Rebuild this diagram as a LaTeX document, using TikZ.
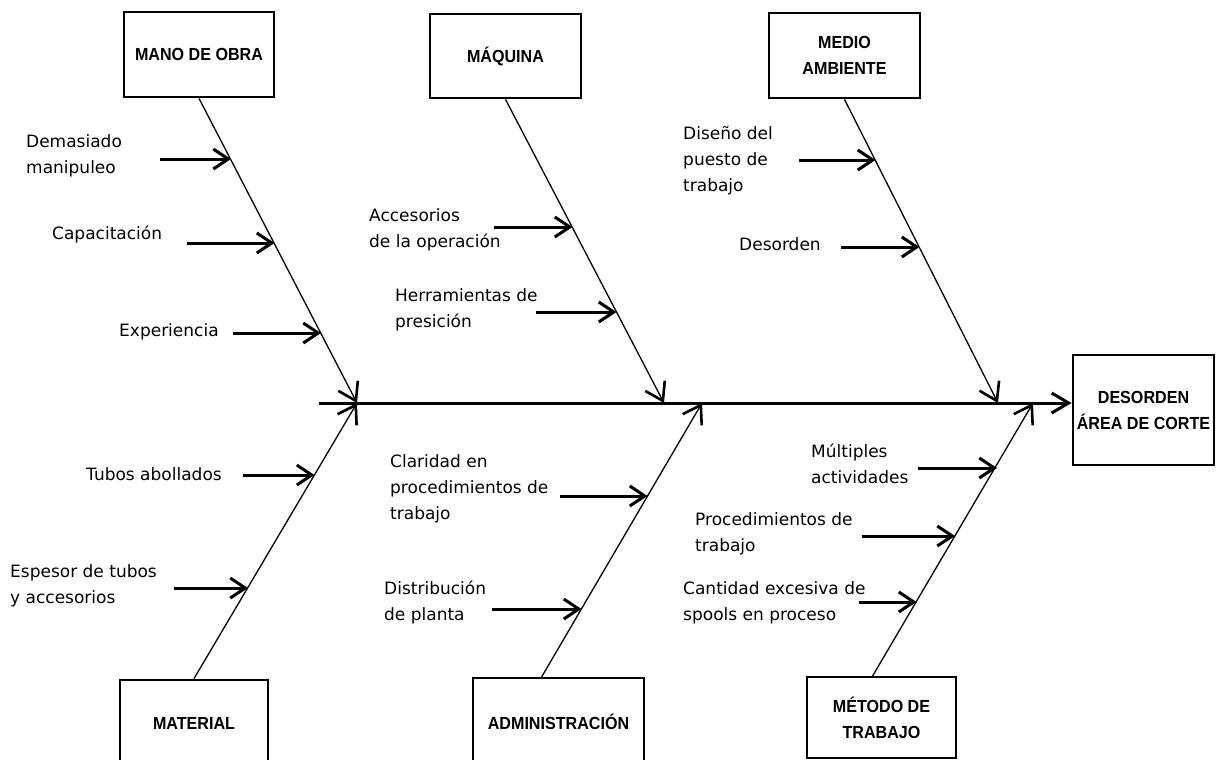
\documentclass[tikz,border=0pt]{standalone}
\usepackage{fontspec}
\newfontfamily\causefont{DejaVu Sans}
\newfontfamily\headfont{Liberation Sans}[FakeStretch=0.92]
\usetikzlibrary{arrows.meta}

\begin{document}
\begin{tikzpicture}[x=1pt,y=-1pt,
  box/.style={draw, line width=2.8pt, inner sep=0pt, align=center,
    font=\headfont\bfseries\fontsize{17.5}{26}\selectfont},
  cause/.style={anchor=west, inner sep=0pt, align=left,
    font=\causefont\fontsize{17}{26}\selectfont},
  bone/.style={line width=1.3pt, -{Straight Barb[length=17pt,width=22pt,line width=2.6pt]}},
  twig/.style={line width=3pt, -{Straight Barb[length=15pt,width=20pt,line width=3pt]}},
  spine/.style={line width=3pt, -{Straight Barb[length=17pt,width=20pt,line width=3pt]}}]
\useasboundingbox (0,0) rectangle (1219,760);
\clip (0,0) rectangle (1219,760);

% category boxes and effect box
\node[box, minimum width=150pt, minimum height=85pt] (mano) at (199,54.5) {MANO DE OBRA};
\node[box, minimum width=151pt, minimum height=84pt] (maquina) at (505.5,56) {MÁQUINA};
\node[box, minimum width=151pt, minimum height=85pt] (medio) at (844.5,55.5) {MEDIO\\AMBIENTE};
\node[box, minimum width=141pt, minimum height=110pt] (efecto) at (1143.5,410) {DESORDEN\\ÁREA DE CORTE};
\node[box, minimum width=148pt, minimum height=86pt] (material) at (194,723) {MATERIAL};
\node[box, minimum width=171pt, minimum height=88pt] (admin) at (558.5,722) {ADMINISTRACIÓN};
\node[box, minimum width=149pt, minimum height=81pt] (metodo) at (881.5,717.5) {MÉTODO DE\\TRABAJO};

% spine
\coordinate (sp0) at (319,403);
\draw[spine] (sp0) -- (sp0 -| efecto.west);

% junctions on the spine
\coordinate (jMano) at (357,403);
\coordinate (jMaq) at (664,403);
\coordinate (jMedio) at (998,403);
\coordinate (jMat) at (357,403);
\coordinate (jAdm) at (702,403);
\coordinate (jMet) at (1033,403);
\coordinate (admA) at (541,678);
\coordinate (metA) at (872,677);

% main bones
\draw[bone] (mano.south) -- (jMano);
\draw[bone] (maquina.south) -- (jMaq);
\draw[bone] (medio.south) -- (jMedio);
\draw[bone] (material.north) -- (jMat);
\draw[bone] (admA) -- (jAdm);
\draw[bone] (metA) -- (jMet);

% causes: mano de obra
\node[cause] (c11) at (26,155.5) {Demasiado\\manipuleo};
\node[cause] (c12) at (52,234) {Capacitación};
\node[cause] (c13) at (119,332) {Experiencia};
\coordinate (a11) at (160,159); \coordinate (b11) at (231,159);
\coordinate (a12) at (187,243); \coordinate (b12) at (274.5,243);
\coordinate (a13) at (233,333); \coordinate (b13) at (321,333);
\draw[twig] (a11) -- (b11);
\draw[twig] (a12) -- (b12);
\draw[twig] (a13) -- (b13);

% causes: maquina
\node[cause] (c21) at (369,230) {Accesorios\\de la operación};
\node[cause] (c22) at (395,310) {Herramientas de\\presición};
\coordinate (a21) at (494,227); \coordinate (b21) at (572.5,227);
\coordinate (a22) at (536,312); \coordinate (b22) at (616.5,312);
\draw[twig] (a21) -- (b21);
\draw[twig] (a22) -- (b22);

% causes: medio ambiente
\node[cause] (c31) at (683,160.5) {Diseño del\\puesto de\\trabajo};
\node[cause] (c32) at (739,244) {Desorden};
\coordinate (a31) at (799,160); \coordinate (b31) at (875.5,160);
\coordinate (a32) at (841,247); \coordinate (b32) at (919.5,247);
\draw[twig] (a31) -- (b31);
\draw[twig] (a32) -- (b32);

% causes: material
\node[cause] (c41) at (86,474) {Tubos abollados};
\node[cause] (c42) at (10,585.5) {Espesor de tubos\\y accesorios};
\coordinate (a41) at (243,475); \coordinate (b41) at (314.5,475);
\coordinate (a42) at (174,588); \coordinate (b42) at (248,588);
\draw[twig] (a41) -- (b41);
\draw[twig] (a42) -- (b42);

% causes: administracion
\node[cause] (c51) at (390,489) {Claridad en\\procedimientos de\\trabajo};
\node[cause] (c52) at (384,602.5) {Distribución\\de planta};
\coordinate (a51) at (560,496); \coordinate (b51) at (647.5,496);
\coordinate (a52) at (492,609); \coordinate (b52) at (581.5,609);
\draw[twig] (a51) -- (b51);
\draw[twig] (a52) -- (b52);

% causes: metodo de trabajo
\node[cause] (c61) at (811,464) {Múltiples\\actividades};
\node[cause] (c62) at (695,533.5) {Procedimientos de\\trabajo};
\node[cause] (c63) at (683,602.5) {Cantidad excesiva de\\spools en proceso};
\coordinate (a61) at (918,468); \coordinate (b61) at (997,468);
\coordinate (a62) at (862,536); \coordinate (b62) at (955,536);
\coordinate (a63) at (859,602); \coordinate (b63) at (916.5,602);
\draw[twig] (a61) -- (b61);
\draw[twig] (a62) -- (b62);
\draw[twig] (a63) -- (b63);
\end{tikzpicture}
\end{document}
